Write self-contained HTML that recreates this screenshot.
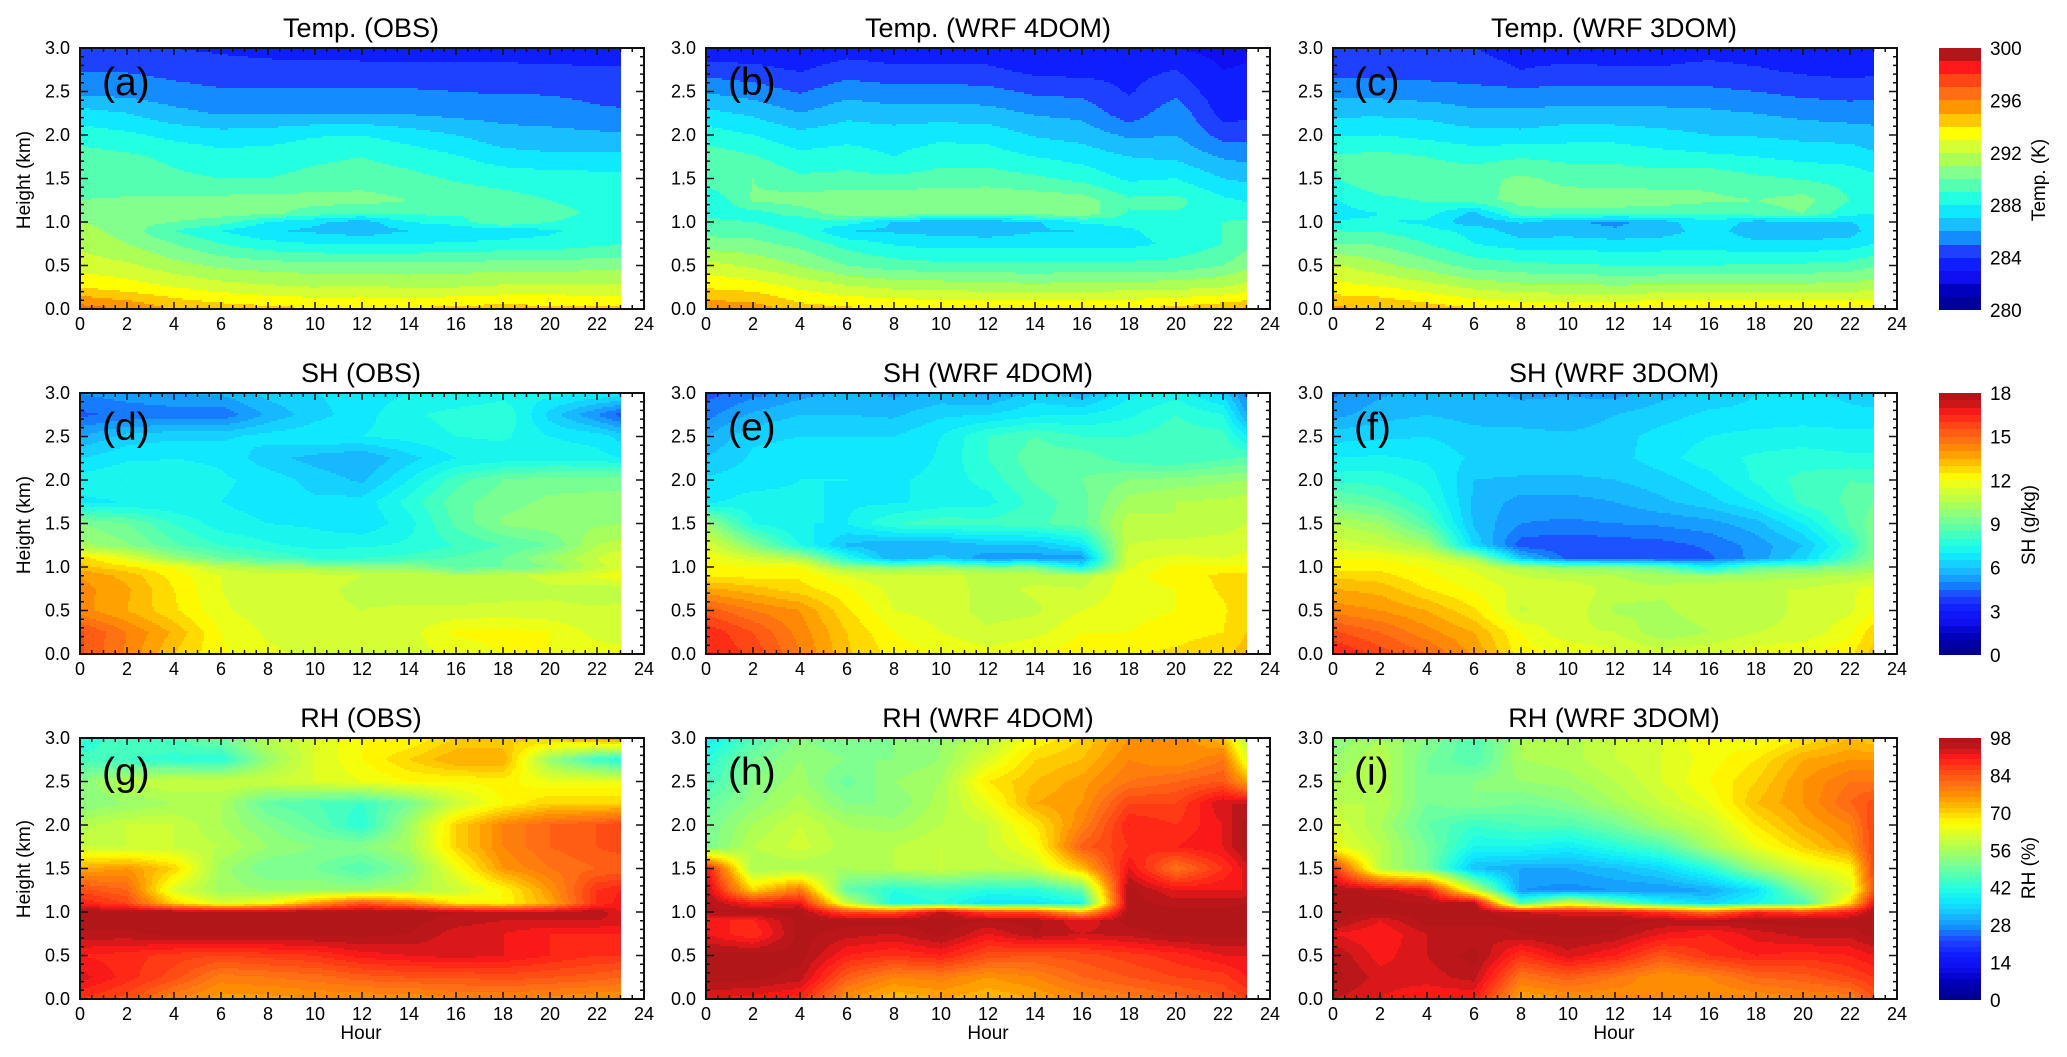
<!DOCTYPE html>
<html lang="en">
<head>
<meta charset="utf-8">
<title>Temperature, SH and RH time-height sections</title>
<style>
html,body{margin:0;padding:0;background:#fff;}
svg{display:block;font-family:"Liberation Sans",sans-serif;fill:#000;}
.t{font-size:27px;text-anchor:middle;}
.l{font-size:39px;}
.a{font-size:19px;text-anchor:middle;}
.tk{font-size:18px;}
.cb{font-size:19px;}
</style>
</head>
<body>
<svg id="figure" width="2067" height="1057" viewBox="0 0 2067 1057" xmlns="http://www.w3.org/2000/svg">
<rect x="0" y="0" width="2067" height="1057" fill="#fff"/>
<g id="panel-a"></g>
<g id="panel-b"></g>
<g id="panel-c"></g>
<g id="panel-d"></g>
<g id="panel-e"></g>
<g id="panel-f"></g>
<g id="panel-g"></g>
<g id="panel-h"></g>
<g id="panel-i"></g>
<g id="colorbar-temp"></g>
<g id="colorbar-sh"></g>
<g id="colorbar-rh"></g>

<text class="t" x="361" y="37">Temp. (OBS)</text>
<text class="t" x="988" y="37">Temp. (WRF 4DOM)</text>
<text class="t" x="1614" y="37">Temp. (WRF 3DOM)</text>
<text class="t" x="361" y="382">SH (OBS)</text>
<text class="t" x="988" y="382">SH (WRF 4DOM)</text>
<text class="t" x="1614" y="382">SH (WRF 3DOM)</text>
<text class="t" x="361" y="727">RH (OBS)</text>
<text class="t" x="988" y="727">RH (WRF 4DOM)</text>
<text class="t" x="1614" y="727">RH (WRF 3DOM)</text>

<text class="l" x="102" y="95">(a)</text>
<text class="l" x="728" y="95">(b)</text>
<text class="l" x="1354" y="95">(c)</text>
<text class="l" x="102" y="440">(d)</text>
<text class="l" x="728" y="440">(e)</text>
<text class="l" x="1354" y="440">(f)</text>
<text class="l" x="102" y="785">(g)</text>
<text class="l" x="728" y="785">(h)</text>
<text class="l" x="1354" y="785">(i)</text>

<text class="a" transform="translate(30 180) rotate(-90)">Height (km)</text>
<text class="a" transform="translate(30 525) rotate(-90)">Height (km)</text>
<text class="a" transform="translate(30 869) rotate(-90)">Height (km)</text>
<text class="a" x="361" y="1039">Hour</text>
<text class="a" x="988" y="1039">Hour</text>
<text class="a" x="1614" y="1039">Hour</text>
<text class="a" transform="translate(2045 180) rotate(-90)">Temp. (K)</text>
<text class="a" transform="translate(2035 525) rotate(-90)">SH (g/kg)</text>
<text class="a" transform="translate(2035 868) rotate(-90)">RH (%)</text>
</svg>

<script>
// Sample coordinates of every grid below
const hours = [0,2,4,6,8,10,12,14,16,18,20,22,23];
const heights = [3.0,2.75,2.5,2.25,2.0,1.75,1.5,1.25,1.1,1.0,0.9,0.75,0.5,0.25,0.0];

// Tick labels
const hourTicks = [0,2,4,6,8,10,12,14,16,18,20,22,24];
const heightTicks = ["0.0","0.5","1.0","1.5","2.0","2.5","3.0"];
const tempBarTicks = [280,284,288,292,296,300];
const shBarTicks = [0,3,6,9,12,15,18];
const rhBarTicks = [0,14,28,42,56,70,84,98];

// Temperature (K), rows top to bottom, columns by hour
const tempObs = [
[284.4,284.3,284,283.8,283.6,283.5,283.4,283.4,283.4,283.4,283.4,283.5,283.5],
[284.9,284.9,284.7,284.5,284.4,284.4,284.4,284.4,284.3,284.3,284.2,284.1,284.1],
[285.7,285.6,285.3,285.1,285.1,285.1,285.1,285.1,285,284.9,284.9,284.7,284.7],
[287.4,287,286.3,285.9,286,286,286,285.9,285.7,285.6,285.5,285.2,285.1],
[288.5,288.2,287.7,287.4,287.5,287.9,288,287.5,287,286.4,286.3,286.2,286.1],
[289.5,289.2,288.8,288.4,288.5,288.8,289,288.6,288.1,287.4,287.2,287.2,287.2],
[289.6,289.5,289.2,289,289,289.3,289.5,289.3,288.9,288.7,288.5,288.4,288.3],
[290,290.1,290.2,290.3,290.4,290.4,290.4,290,289.5,289.3,289,288.8,288.7],
[290.5,290.5,290.5,290.4,290.3,289.5,289,289.2,289.2,289.2,289.2,288.9,288.8],
[291,290.5,290,289.5,288,287.2,286.5,288,288.5,290,289,288.8,288.7],
[291.5,290.5,289,288,287.1,286.8,286.4,287,287.2,287.4,287.8,288.5,288.8],
[291.8,291,290,289,288.3,288,287.9,288,288.1,288.3,288.4,288.8,289],
[292.5,292.2,291.4,290.8,290.5,290.4,290.3,290.3,290.4,290.5,290.5,290.6,290.6],
[294,293.5,293,292.5,292.2,292,292.2,291.9,292,292.2,292.3,292.3,292.3],
[296.5,296,295,294.6,294.3,294.1,294,294.1,294.3,294.5,294.3,294.2,294.2]
];
const tempWrf4 = [
[283.2,283.2,283.2,283.5,283.4,283.4,283.3,283,283,283,283,282.6,282.8],
[284.5,284.3,283.9,284.5,284.2,284.2,284.2,283.7,283.6,283.7,284,283,283.1],
[285.9,285.5,284.9,285.6,285.4,285.4,285.3,284.8,284.7,283.9,284.7,283.3,283.3],
[287.3,286.8,286,286.7,286.4,286.5,286.4,285.9,285.7,284.4,285.7,283.6,283.7],
[288.5,288,287.3,287.6,287.5,287.7,287.6,286.9,286.6,285.8,286,284.6,284.6],
[289.6,289.1,288.3,288.5,288,288.6,288.5,288,287.6,287,286.8,285.9,285.7],
[289.7,290,289.2,289.3,289.2,289.4,289.5,289.2,288.7,287.8,288,287,286.8],
[287.9,290.1,290.5,290.6,290.7,290.8,290.8,290.6,290.5,289.2,289.3,288.2,287.9],
[288.8,288.6,289.4,290.7,290.8,290.8,290.7,290.6,290.7,288.9,288.9,288.8,288.8],
[289.2,289,288.4,288.6,286.9,286.2,286.4,286.8,288.2,288.5,288.9,289,289.1],
[289.7,289.5,288.8,287,286.8,286.6,286.4,286.9,287,287.8,288.6,289,289.3],
[290.4,290.3,289.7,288.6,287.9,287.6,287.6,287.7,287.7,287.7,288.2,289,289.7],
[292.4,291.8,291,290,289.5,289.3,289.3,289.2,289.3,289.3,289.4,290,290.7],
[293.9,293.6,292.8,292.2,291.8,291.7,291.5,291.4,291.5,291.6,291.7,292,292.4],
[295.8,295.6,294.5,294.2,294.1,294,294,294,294,294.1,294.3,294.8,295]
];
const tempWrf3 = [
[284.2,284.2,284.1,284,283.6,283.5,283.5,283.5,283.6,283.5,283.4,283.3,283.5],
[284.6,284.6,284.6,284.4,284,284.2,284.1,284.1,284.3,284.1,283.8,283.6,283.7],
[285.7,285.6,285.4,285.3,285.2,285.3,285.3,285.3,285.2,285,284.7,284.6,284.7],
[286.8,286.8,286.7,286.2,286.2,286.4,286.3,286.3,286.2,286,285.7,285.5,285.5],
[287.9,288,287.7,287.4,287.3,287.6,287.6,287.3,287,286.9,286.7,286.6,286.4],
[289.1,289.3,289,288.6,288.9,288.7,288.7,288.4,288.2,288,287.7,287.6,287.2],
[288.9,290,289.6,289.7,290.2,289.7,289.6,289.5,289.7,289.2,288.9,288.6,288.3],
[287.9,288.7,289.1,289.6,290.4,290.5,290.5,290.5,290.2,290,290.4,289,288.7],
[287.7,288,288.4,286.7,289.6,289.6,289.6,289.3,289,289.6,290,288.3,288],
[288.1,288.1,287.8,286.2,287.1,286.2,285.7,286.6,287.8,286.6,286.9,287,287.4],
[289,288.9,288.3,287.7,286.4,286.5,286.2,286.5,287.5,286.3,286.2,286.5,287.6],
[290,289.9,289,288,287.5,287.6,287.4,287.5,287.6,287.3,287.3,287.5,288],
[292.2,291.3,290.5,289.6,289.3,289.1,289,289,289,289.1,289.2,289.4,289.9],
[293.4,293.1,292.5,291.8,291.4,291.3,291.2,291.3,291.4,291.4,291.4,291.5,291.7],
[295.2,295.1,294.6,294.1,293.9,293.8,293.9,294.1,294.2,294.2,294.1,294,294]
];

// Specific humidity (g/kg)
const shObs = [
[5,5.3,5.5,5.6,6.2,6.5,6.7,7,7,7.2,7.2,7,7],
[4.4,4.6,4.7,4.6,5.6,6.3,6.8,7.4,7.7,8,6.3,5,4.3],
[5.5,6.2,6.4,6.4,6.7,6.9,7,7.2,7.5,7.6,7,6.8,6.3],
[6.5,6.9,7,6.9,6.2,5.8,5.5,6.3,7,7.2,7.3,7.2,7],
[7.2,7.5,7.3,7.1,6.8,6.3,5.9,7,8.3,9,9.3,9.4,9.4],
[6.9,7,7,7,6.8,6.6,6.7,7.7,8.8,9.3,9.6,9.6,9.6],
[9.5,9,8,7.2,7,6.9,6.6,7.3,8.6,9.6,9.8,9.9,10],
[10.2,9.6,8.6,8,7.6,7.3,7.4,7.6,8,8.5,9,10.5,10.7],
[12.8,11.6,10,9,8.5,8,8,8.2,8.6,9,10,11,11.5],
[13.2,12.6,12,10.8,10.4,10.2,9.8,9.8,8.7,9,9.5,10.8,11.3],
[14,13.3,12.3,11.5,11.2,11.2,11,11,10.8,10.8,11.2,11.6,12],
[14.2,13.6,12.5,11.5,11.2,11.1,10.9,10.7,10.7,10.7,10.9,10.7,10.8],
[14.2,13.5,12.6,11.6,11.2,11.1,11,11.1,11.1,11.2,11.1,11.1,11.1],
[15.6,14.5,13.4,12,11.4,11.3,11.3,11.3,12.1,12.2,12,11.3,11.2],
[15.6,14.4,13,12.1,11.6,11.4,11.3,11.3,11.6,12,12,11.8,11.7]
];
const shWrf4 = [
[4.3,4.8,5.3,5.7,5.4,5.6,5.4,6.2,5.6,6.9,7.3,6.3,4.8],
[4.8,5.6,6,6,5.9,6.4,6.5,6.9,7,7.4,8,7.5,5.5],
[5.5,6.4,6.5,6.5,6.5,7,8,8.5,8,8,8.3,8.2,7],
[6,6.6,6.7,6.5,6.5,7.1,8,8.8,8.8,8.2,8,8.4,8.6],
[6.6,6.8,7,7,6.9,7.2,7.7,8.6,9,9.5,9.7,9.9,10],
[6.9,7.2,7.1,6.9,6.9,7.2,7.3,8.2,8.8,10.2,10.5,10.6,10.7],
[10,7.5,7,7,8,8.3,8.2,8.4,8.8,10.8,10.5,10.7,11],
[11.5,9.5,7.5,5.9,5.5,5.5,6,6,6.8,11,11.2,11.3,11.4],
[12,11.2,10.5,7.6,5.5,6.2,5.1,5.2,5.2,11.4,11.6,11.5,11.6],
[12.2,12,12,10,9.8,10,9.5,9.5,7,11.4,12.2,12.2,12.2],
[12.5,12.3,12.4,11.5,11,11.2,10.8,10.8,10.7,11.8,12.3,12.6,12.6],
[13.6,13.2,12.7,12.1,11.3,11.3,10.8,11.1,11,11.8,12,12.6,12.9],
[15.3,14.5,14,12.6,11.5,11.3,10.8,10.9,11.5,11.8,12,12.4,12.9],
[16.4,15.5,14.3,13,12,11.5,11.1,11.3,12,12,12.3,12.5,13],
[16.5,15.9,14.5,13.1,12.3,12,11.7,12,12.3,12.5,12.6,12.9,13.2]
];
const shWrf3 = [
[4.9,5.4,5.7,5.6,5.4,5.5,5.3,5.8,6.2,6.5,6.6,6.4,6.3],
[5.3,5.8,6,5.8,5.7,5.6,6,6.3,6.6,6.6,6.7,6.6,6.6],
[6.3,6.4,6.5,6.2,6.2,6.1,6.3,6.7,7,7.2,7.3,7.2,7.2],
[7,7.1,6.9,6.4,6.4,6.3,6.3,6.8,7.3,7.6,7.7,7.6,7.6],
[7.9,7.8,7.3,6,5.9,5.9,6,6.3,6.8,7.6,8.2,8.5,8.4],
[9.1,8.6,7.7,5.9,5.3,5.3,5.5,5.9,6.3,7,8.2,8.6,9],
[10.5,10,8.5,5.9,5,4.9,5,5.1,5.3,5.8,7,8.6,9.3],
[11.3,11,10.2,6.4,4.2,4.1,4.2,4.3,4.6,5.2,6,7.8,9.4],
[12,12,11.5,10.4,6,4.3,4,4,4.4,5.2,6.3,8.5,9.5],
[12.3,12.3,12,11.4,10.4,9.8,9.7,9,7,9,9.2,9.6,10],
[12.9,12.7,12.1,11.6,11,10.7,10.5,10.2,10,10.2,10.4,10.6,10.8],
[13.5,13.3,12.5,11.9,11.3,11.5,10.7,10.6,11,11,11,11.4,11.7],
[14.3,14,13.5,12.6,10.9,11.4,10.4,10.4,10.8,10.8,11.1,11.4,12],
[15.6,15,14.2,13.5,12,11.1,11,10.1,10.5,11,11.1,11.9,12.8],
[16.6,15.8,15,13.9,12.2,12,11.6,11.3,11.4,11.8,12,12.4,13.2]
];

// Relative humidity (%)
const rhObs = [
[42,46,46,50,58,62,66,66,70,70,72,75,77],
[45,44,43,42,54,62,66,70,74,74,54,44,42],
[52,58,60,60,60,62,64,66,66,67,64,64,64],
[52,54,56,56,48,46,44,50,60,66,70,70,70],
[57,60,60,56,52,48,42,55,70,78,82,84,86],
[60,60,60,58,54,52,52,56,70,78,82,84,85],
[74,76,70,55,50,50,46,52,64,76,80,82,82],
[85,82,62,55,54,54,54,56,60,66,76,88,90],
[90,86,70,62,65,75,84,78,68,66,74,88,91],
[97,97,97,97,97,97,97,97,96,94,94,96,92],
[97,97,97,97,97,97,97,97,95,94,94,94,93],
[95.5,95.5,97,97,97,97,97,96,93,92,90,90,90],
[90,89,87,86,87,88,91,92,93,92,90,88,88],
[93,89,85,79,80,81,83,84,84,85,84,83,82],
[88,85,78,75,75,76,76,76,78,78,77,76,76]
];
const rhWrf4 = [
[38,46,52,50,52,54,58,66,70,76,78,72,58],
[42,50,54,52,52,54,62,70,72,78,76,80,64],
[44,52,55,49,54,56,68,72,75,80,82,84,75],
[48,53,57,52,52,57,64,74,76,86,86,94,94],
[50,56,60,56,55,58,60,68,78,90,88,92,97],
[50,58,61,57,58,60,60,65,83,88,90,92,97],
[92,56,56,56,58,60,58,60,72,92,80,88,93],
[96,70,80,48,42,44,42,42,48,97,92,92,92],
[97,90,92,60,40,42,36,37,40,97,95,95,96],
[96,97,97,85,84,95,86,85,72,97,97,97,97],
[90,90,97,97,97,97,96,97,92,97,97,97,97],
[92,88,97,95,94,97,92,96,94,95,97,97,97],
[97,97,97,90,88,90,85,84,85,87,89,92,92],
[97,97,95,83,78,79,76,78,82,84,86,87,90],
[92,91,89,76,72,74,72,74,77,79,81,84,86]
];
const rhWrf3 = [
[52,56,52,46,56,57,60,62,66,64,68,72,70],
[54,58,50,46,56,57,60,62,65,68,74,76,76],
[56,58,50,52,54,55,58,62,66,70,76,80,80],
[58,58,50,52,50,52,56,60,64,72,76,82,85],
[62,56,48,44,46,46,50,56,60,68,74,78,86],
[64,58,50,40,40,38,42,46,56,64,70,76,86],
[88,58,50,32,30,30,32,35,42,54,62,66,86],
[97,95,92,60,28,27,28,28,30,36,52,62,84],
[97,97,96,97,45,62,50,40,35,40,45,70,92],
[97,97,97,97,94,92,92,88,80,90,86,90,97],
[97,92,97,97,97,97,97,96,96,97,97,97,97],
[92,90,94,94,96,97,96,92,90,93,95,95,97],
[96,91,94,97,88,93,90,84,88,90,89,90,92],
[97,93,93,95,80,83,80,76,78,82,83,86,88],
[94,92,90,90,74,76,76,78,76,76,78,78,84]
];

// Colour ramp
const rampStops = [
[0,0,0,140],[0.075,0,0,190],[0.125,15,15,240],[0.175,15,30,255],[0.225,30,65,255],
[0.275,20,140,255],[0.325,25,190,255],[0.375,15,232,255],[0.425,35,255,225],[0.475,85,255,178],
[0.525,130,255,140],[0.575,172,255,85],[0.625,212,255,50],[0.675,255,255,0],[0.725,255,200,0],
[0.775,255,150,0],[0.825,255,110,20],[0.875,255,70,20],[0.925,255,25,25],[0.975,178,22,25],[1,178,22,25]
];

const tempScale = {min:280,max:300,step:1};
const shScale = {min:0,max:18,step:0.5};
const rhScale = {min:0,max:98,step:2};

const PLOT_W = 564, PLOT_H = 261, MAX_HOUR = 24, MAX_KM = 3, CELL = 2;
const SVG_NS = "http://www.w3.org/2000/svg";

function rampColor(t){
  for(let i=1;i<rampStops.length;i++){
    if(t<=rampStops[i][0]){
      const a=rampStops[i-1], b=rampStops[i], f=(t-a[0])/(b[0]-a[0]);
      return "rgb("+Math.round(a[1]+(b[1]-a[1])*f)+","+Math.round(a[2]+(b[2]-a[2])*f)+","+Math.round(a[3]+(b[3]-a[3])*f)+")";
    }
  }
  return "rgb(178,22,25)";
}
function bandCount(s){ return Math.round((s.max-s.min)/s.step); }
function bandColor(i,s){ return rampColor((i+0.5)/bandCount(s)); }
function bandOf(v,s){ return Math.max(0,Math.min(bandCount(s)-1,Math.floor((v-s.min)/s.step))); }

function gridValue(grid,h,z){
  let c=0; while(c<hours.length-2 && h>hours[c+1]) c++;
  let r=0; while(r<heights.length-2 && z<heights[r+1]) r++;
  const fx=(h-hours[c])/(hours[c+1]-hours[c]);
  const fy=(heights[r]-z)/(heights[r]-heights[r+1]);
  const a=grid[r][c]+(grid[r][c+1]-grid[r][c])*fx;
  const b=grid[r+1][c]+(grid[r+1][c+1]-grid[r+1][c])*fx;
  return a+(b-a)*fy;
}
function svgEl(tag){ return document.createElementNS(SVG_NS,tag); }

function drawPanel(id,left,top,grid,scale){
  const root=document.getElementById(id);
  const xOf=h=>left+h*PLOT_W/MAX_HOUR;
  const yOf=z=>top+PLOT_H-z*PLOT_H/MAX_KM;
  const hourOf=x=>(x-left)*MAX_HOUR/PLOT_W;
  const kmOf=y=>(top+PLOT_H-y)*MAX_KM/PLOT_H;
  const endX=Math.round(xOf(hours[hours.length-1]));
  const endY=top+PLOT_H;
  const parts={};
  for(let y=top;y<endY;y+=CELL){
    const hCell=Math.min(CELL,endY-y);
    const z=kmOf(y+hCell/2);
    let runStart=left, runBand=-1;
    for(let x=left;;x+=CELL){
      const atEnd=x>=endX;
      const b=atEnd?-2:bandOf(gridValue(grid,Math.min(hours[hours.length-1],hourOf(x+CELL/2)),z),scale);
      if(b!==runBand){
        if(runBand>=0){
          const w=Math.min(x,endX)-runStart;
          parts[runBand]=(parts[runBand]||"")+"M"+runStart+" "+y+"h"+w+"v"+hCell+"h"+(-w)+"z";
        }
        runStart=x; runBand=b;
      }
      if(atEnd) break;
    }
  }
  Object.keys(parts).forEach(k=>{
    const p=svgEl("path");
    p.setAttribute("d",parts[k]);
    p.setAttribute("fill",bandColor(+k,scale));
    p.setAttribute("shape-rendering","crispEdges");
    
    
    root.appendChild(p);
  });

  let d="";
  for(let i=0;i<=MAX_HOUR*2;i++){
    const x=xOf(i/2), len=(i%4===0)?7:4;
    d+="M"+x+" "+(top+PLOT_H)+"v"+(-len)+"M"+x+" "+top+"v"+len;
  }
  for(let i=0;i<=MAX_KM*10;i++){
    const y=yOf(i/10), len=(i%5===0)?8:4;
    d+="M"+left+" "+y+"h"+len+"M"+(left+PLOT_W)+" "+y+"h"+(-len);
  }
  const ticks=svgEl("path");
  ticks.setAttribute("d",d);
  ticks.setAttribute("stroke","#111");
  ticks.setAttribute("stroke-width","1.5");
  ticks.setAttribute("fill","none");
  
  
  root.appendChild(ticks);

  const frame=svgEl("rect");
  frame.setAttribute("x",left);
  frame.setAttribute("y",top);
  frame.setAttribute("width",PLOT_W);
  frame.setAttribute("height",PLOT_H);
  frame.setAttribute("fill","none");
  frame.setAttribute("stroke","#111");
  frame.setAttribute("stroke-width","2");
  
  
  root.appendChild(frame);

  hourTicks.forEach(h=>{
    const t=svgEl("text");
    t.textContent=h;
    t.setAttribute("class","tk");
    t.setAttribute("text-anchor","middle");
    t.setAttribute("x",xOf(h));
    t.setAttribute("y",top+PLOT_H+21);
    
    
    root.appendChild(t);
  });
  heightTicks.forEach(s=>{
    const t=svgEl("text");
    t.textContent=s;
    t.setAttribute("class","tk");
    t.setAttribute("text-anchor","end");
    t.setAttribute("x",left-10);
    t.setAttribute("y",yOf(parseFloat(s))+6);
    
    
    root.appendChild(t);
  });
}

function drawColorbar(id,top,scale,labels){
  const root=document.getElementById(id);
  const left=1939, w=42, h=262;
  const yOf=v=>top+h-(v-scale.min)*h/(scale.max-scale.min);
  for(let i=0;i<bandCount(scale);i++){
    const y0=Math.round(yOf(scale.min+(i+1)*scale.step));
    const y1=Math.round(yOf(scale.min+i*scale.step));
    const r=svgEl("rect");
    r.setAttribute("x",left);
    r.setAttribute("y",y0);
    r.setAttribute("width",w);
    r.setAttribute("height",y1-y0);
    r.setAttribute("fill",bandColor(i,scale));
    
    
    root.appendChild(r);
  }
  labels.forEach(v=>{
    const t=svgEl("text");
    t.textContent=v;
    t.setAttribute("class","cb");
    t.setAttribute("x",1990);
    t.setAttribute("y",yOf(v)+7);
    
    
    root.appendChild(t);
  });
}

drawPanel("panel-a",80,48,tempObs,tempScale);
drawPanel("panel-b",706,48,tempWrf4,tempScale);
drawPanel("panel-c",1333,48,tempWrf3,tempScale);
drawPanel("panel-d",80,393,shObs,shScale);
drawPanel("panel-e",706,393,shWrf4,shScale);
drawPanel("panel-f",1333,393,shWrf3,shScale);
drawPanel("panel-g",80,738,rhObs,rhScale);
drawPanel("panel-h",706,738,rhWrf4,rhScale);
drawPanel("panel-i",1333,738,rhWrf3,rhScale);
drawColorbar("colorbar-temp",48,tempScale,tempBarTicks);
drawColorbar("colorbar-sh",393,shScale,shBarTicks);
drawColorbar("colorbar-rh",738,rhScale,rhBarTicks);
</script>
</body>
</html>
